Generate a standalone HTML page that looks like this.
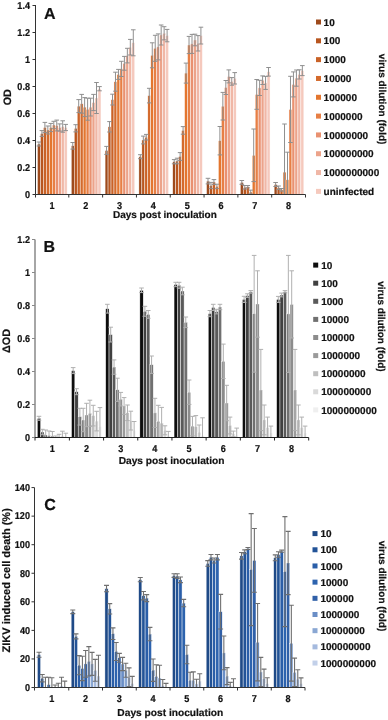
<!DOCTYPE html>
<html><head><meta charset="utf-8"><style>html,body{margin:0;padding:0;background:#fff;}
svg{display:block;will-change:transform;}
text{font-family:"Liberation Sans", sans-serif;font-weight:bold;fill:#111;stroke:#111;stroke-width:0.2px;text-rendering:geometricPrecision;}
.t{font-size:9.1px;}
.p{font-size:16px;}
.x{font-size:10px;}
.x2{font-size:10.2px;}
.y{font-size:10.8px;}
.z{font-size:11px;}
.yd{font-size:10.9px;}
</style></head>
<body><svg width="388" height="720" viewBox="0 0 388 720"><rect width="388" height="720" fill="#fff"/><rect x="37.45" y="144.00" width="2.97" height="50.50" fill="#9e4a1c" stroke="#fff" stroke-width="0.45"/><rect x="40.42" y="133.50" width="2.97" height="61.00" fill="#b8561f" stroke="#fff" stroke-width="0.45"/><rect x="43.39" y="127.50" width="2.97" height="67.00" fill="#c96227" stroke="#fff" stroke-width="0.45"/><rect x="46.36" y="130.00" width="2.97" height="64.50" fill="#d46a2c" stroke="#fff" stroke-width="0.45"/><rect x="49.33" y="127.50" width="2.97" height="67.00" fill="#e3762f" stroke="#fff" stroke-width="0.45"/><rect x="52.30" y="125.00" width="2.97" height="69.50" fill="#e77f45" stroke="#fff" stroke-width="0.45"/><rect x="55.27" y="125.50" width="2.97" height="69.00" fill="#e99170" stroke="#fff" stroke-width="0.45"/><rect x="58.24" y="127.50" width="2.97" height="67.00" fill="#eca38a" stroke="#fff" stroke-width="0.45"/><rect x="61.21" y="126.50" width="2.97" height="68.00" fill="#f0b7a6" stroke="#fff" stroke-width="0.45"/><rect x="64.18" y="127.50" width="2.97" height="67.00" fill="#f5c9bd" stroke="#fff" stroke-width="0.45"/><rect x="71.26" y="145.80" width="2.97" height="48.70" fill="#9e4a1c" stroke="#fff" stroke-width="0.45"/><rect x="74.23" y="128.30" width="2.97" height="66.20" fill="#b8561f" stroke="#fff" stroke-width="0.45"/><rect x="77.20" y="106.10" width="2.97" height="88.40" fill="#c96227" stroke="#fff" stroke-width="0.45"/><rect x="80.17" y="103.80" width="2.97" height="90.70" fill="#d46a2c" stroke="#fff" stroke-width="0.45"/><rect x="83.14" y="107.10" width="2.97" height="87.40" fill="#e3762f" stroke="#fff" stroke-width="0.45"/><rect x="86.11" y="109.20" width="2.97" height="85.30" fill="#e77f45" stroke="#fff" stroke-width="0.45"/><rect x="89.08" y="107.10" width="2.97" height="87.40" fill="#e99170" stroke="#fff" stroke-width="0.45"/><rect x="92.05" y="102.50" width="2.97" height="92.00" fill="#eca38a" stroke="#fff" stroke-width="0.45"/><rect x="95.02" y="98.00" width="2.97" height="96.50" fill="#f0b7a6" stroke="#fff" stroke-width="0.45"/><rect x="97.99" y="88.70" width="2.97" height="105.80" fill="#f5c9bd" stroke="#fff" stroke-width="0.45"/><rect x="105.08" y="150.40" width="2.97" height="44.10" fill="#9e4a1c" stroke="#fff" stroke-width="0.45"/><rect x="108.05" y="126.80" width="2.97" height="67.70" fill="#b8561f" stroke="#fff" stroke-width="0.45"/><rect x="111.02" y="99.60" width="2.97" height="94.90" fill="#c96227" stroke="#fff" stroke-width="0.45"/><rect x="113.98" y="81.70" width="2.97" height="112.80" fill="#d46a2c" stroke="#fff" stroke-width="0.45"/><rect x="116.95" y="74.40" width="2.97" height="120.10" fill="#e3762f" stroke="#fff" stroke-width="0.45"/><rect x="119.93" y="68.90" width="2.97" height="125.60" fill="#e77f45" stroke="#fff" stroke-width="0.45"/><rect x="122.90" y="63.30" width="2.97" height="131.20" fill="#e99170" stroke="#fff" stroke-width="0.45"/><rect x="125.87" y="55.60" width="2.97" height="138.90" fill="#eca38a" stroke="#fff" stroke-width="0.45"/><rect x="128.84" y="47.20" width="2.97" height="147.30" fill="#f0b7a6" stroke="#fff" stroke-width="0.45"/><rect x="131.81" y="42.80" width="2.97" height="151.70" fill="#f5c9bd" stroke="#fff" stroke-width="0.45"/><rect x="138.89" y="156.70" width="2.97" height="37.80" fill="#9e4a1c" stroke="#fff" stroke-width="0.45"/><rect x="141.86" y="140.00" width="2.97" height="54.50" fill="#b8561f" stroke="#fff" stroke-width="0.45"/><rect x="144.83" y="137.20" width="2.97" height="57.30" fill="#c96227" stroke="#fff" stroke-width="0.45"/><rect x="147.80" y="95.60" width="2.97" height="98.90" fill="#d46a2c" stroke="#fff" stroke-width="0.45"/><rect x="150.77" y="55.30" width="2.97" height="139.20" fill="#e3762f" stroke="#fff" stroke-width="0.45"/><rect x="153.74" y="48.30" width="2.97" height="146.20" fill="#e77f45" stroke="#fff" stroke-width="0.45"/><rect x="156.71" y="46.90" width="2.97" height="147.60" fill="#e99170" stroke="#fff" stroke-width="0.45"/><rect x="159.68" y="35.00" width="2.97" height="159.50" fill="#eca38a" stroke="#fff" stroke-width="0.45"/><rect x="162.65" y="33.30" width="2.97" height="161.20" fill="#f0b7a6" stroke="#fff" stroke-width="0.45"/><rect x="165.62" y="35.60" width="2.97" height="158.90" fill="#f5c9bd" stroke="#fff" stroke-width="0.45"/><rect x="172.70" y="161.70" width="2.97" height="32.80" fill="#9e4a1c" stroke="#fff" stroke-width="0.45"/><rect x="175.67" y="161.00" width="2.97" height="33.50" fill="#b8561f" stroke="#fff" stroke-width="0.45"/><rect x="178.64" y="156.50" width="2.97" height="38.00" fill="#c96227" stroke="#fff" stroke-width="0.45"/><rect x="181.61" y="130.40" width="2.97" height="64.10" fill="#d46a2c" stroke="#fff" stroke-width="0.45"/><rect x="184.58" y="73.10" width="2.97" height="121.40" fill="#e3762f" stroke="#fff" stroke-width="0.45"/><rect x="187.55" y="45.00" width="2.97" height="149.50" fill="#e77f45" stroke="#fff" stroke-width="0.45"/><rect x="190.52" y="43.90" width="2.97" height="150.60" fill="#e99170" stroke="#fff" stroke-width="0.45"/><rect x="193.49" y="40.00" width="2.97" height="154.50" fill="#eca38a" stroke="#fff" stroke-width="0.45"/><rect x="196.46" y="43.30" width="2.97" height="151.20" fill="#f0b7a6" stroke="#fff" stroke-width="0.45"/><rect x="199.43" y="35.60" width="2.97" height="158.90" fill="#f5c9bd" stroke="#fff" stroke-width="0.45"/><rect x="206.51" y="181.10" width="2.97" height="13.40" fill="#9e4a1c" stroke="#fff" stroke-width="0.45"/><rect x="209.48" y="185.50" width="2.97" height="9.00" fill="#b8561f" stroke="#fff" stroke-width="0.45"/><rect x="212.45" y="182.00" width="2.97" height="12.50" fill="#c96227" stroke="#fff" stroke-width="0.45"/><rect x="215.42" y="186.40" width="2.97" height="8.10" fill="#d46a2c" stroke="#fff" stroke-width="0.45"/><rect x="218.39" y="140.70" width="2.97" height="53.80" fill="#e3762f" stroke="#fff" stroke-width="0.45"/><rect x="221.36" y="106.20" width="2.97" height="88.30" fill="#e77f45" stroke="#fff" stroke-width="0.45"/><rect x="224.33" y="87.50" width="2.97" height="107.00" fill="#e99170" stroke="#fff" stroke-width="0.45"/><rect x="227.30" y="76.40" width="2.97" height="118.10" fill="#eca38a" stroke="#fff" stroke-width="0.45"/><rect x="230.27" y="81.40" width="2.97" height="113.10" fill="#f0b7a6" stroke="#fff" stroke-width="0.45"/><rect x="233.24" y="78.30" width="2.97" height="116.20" fill="#f5c9bd" stroke="#fff" stroke-width="0.45"/><rect x="240.32" y="182.40" width="2.97" height="12.10" fill="#9e4a1c" stroke="#fff" stroke-width="0.45"/><rect x="243.29" y="187.30" width="2.97" height="7.20" fill="#b8561f" stroke="#fff" stroke-width="0.45"/><rect x="246.26" y="186.70" width="2.97" height="7.80" fill="#c96227" stroke="#fff" stroke-width="0.45"/><rect x="249.23" y="192.00" width="2.97" height="2.50" fill="#d46a2c" stroke="#fff" stroke-width="0.45"/><rect x="252.20" y="155.30" width="2.97" height="39.20" fill="#e3762f" stroke="#fff" stroke-width="0.45"/><rect x="255.17" y="94.40" width="2.97" height="100.10" fill="#e77f45" stroke="#fff" stroke-width="0.45"/><rect x="258.14" y="87.90" width="2.97" height="106.60" fill="#e99170" stroke="#fff" stroke-width="0.45"/><rect x="261.12" y="80.20" width="2.97" height="114.30" fill="#eca38a" stroke="#fff" stroke-width="0.45"/><rect x="264.08" y="82.90" width="2.97" height="111.60" fill="#f0b7a6" stroke="#fff" stroke-width="0.45"/><rect x="267.06" y="71.80" width="2.97" height="122.70" fill="#f5c9bd" stroke="#fff" stroke-width="0.45"/><rect x="274.14" y="184.50" width="2.97" height="10.00" fill="#9e4a1c" stroke="#fff" stroke-width="0.45"/><rect x="277.11" y="187.80" width="2.97" height="6.70" fill="#b8561f" stroke="#fff" stroke-width="0.45"/><rect x="280.08" y="189.80" width="2.97" height="4.70" fill="#c96227" stroke="#fff" stroke-width="0.45"/><rect x="283.05" y="172.10" width="2.97" height="22.40" fill="#d46a2c" stroke="#fff" stroke-width="0.45"/><rect x="286.02" y="179.80" width="2.97" height="14.70" fill="#e3762f" stroke="#fff" stroke-width="0.45"/><rect x="288.99" y="109.40" width="2.97" height="85.10" fill="#e77f45" stroke="#fff" stroke-width="0.45"/><rect x="291.96" y="84.40" width="2.97" height="110.10" fill="#e99170" stroke="#fff" stroke-width="0.45"/><rect x="294.93" y="78.10" width="2.97" height="116.40" fill="#eca38a" stroke="#fff" stroke-width="0.45"/><rect x="297.90" y="74.40" width="2.97" height="120.10" fill="#f0b7a6" stroke="#fff" stroke-width="0.45"/><rect x="300.87" y="70.60" width="2.97" height="123.90" fill="#f5c9bd" stroke="#fff" stroke-width="0.45"/><path d="M38.94 142.00V146.00M36.64 142.00H41.23M36.64 146.00H41.23" stroke="#8f8f8f" stroke-width="1.0" fill="none"/><path d="M41.91 130.60V136.40M39.61 130.60H44.20M39.61 136.40H44.20" stroke="#8f8f8f" stroke-width="1.0" fill="none"/><path d="M44.88 122.40V132.60M42.58 122.40H47.17M42.58 132.60H47.17" stroke="#8f8f8f" stroke-width="1.0" fill="none"/><path d="M47.84 126.00V134.00M45.55 126.00H50.14M45.55 134.00H50.14" stroke="#8f8f8f" stroke-width="1.0" fill="none"/><path d="M50.82 123.40V131.60M48.52 123.40H53.12M48.52 131.60H53.12" stroke="#8f8f8f" stroke-width="1.0" fill="none"/><path d="M53.79 121.30V128.70M51.49 121.30H56.09M51.49 128.70H56.09" stroke="#8f8f8f" stroke-width="1.0" fill="none"/><path d="M56.76 120.10V130.90M54.46 120.10H59.05M54.46 130.90H59.05" stroke="#8f8f8f" stroke-width="1.0" fill="none"/><path d="M59.73 123.90V131.10M57.43 123.90H62.03M57.43 131.10H62.03" stroke="#8f8f8f" stroke-width="1.0" fill="none"/><path d="M62.70 120.80V132.20M60.40 120.80H65.00M60.40 132.20H65.00" stroke="#8f8f8f" stroke-width="1.0" fill="none"/><path d="M65.67 124.40V130.60M63.37 124.40H67.97M63.37 130.60H67.97" stroke="#8f8f8f" stroke-width="1.0" fill="none"/><path d="M72.75 142.50V149.10M70.45 142.50H75.05M70.45 149.10H75.05" stroke="#8f8f8f" stroke-width="1.0" fill="none"/><path d="M75.72 124.70V131.90M73.42 124.70H78.02M73.42 131.90H78.02" stroke="#8f8f8f" stroke-width="1.0" fill="none"/><path d="M78.69 99.60V112.60M76.39 99.60H80.99M76.39 112.60H80.99" stroke="#8f8f8f" stroke-width="1.0" fill="none"/><path d="M81.66 94.40V113.20M79.36 94.40H83.96M79.36 113.20H83.96" stroke="#8f8f8f" stroke-width="1.0" fill="none"/><path d="M84.63 97.60V116.60M82.33 97.60H86.93M82.33 116.60H86.93" stroke="#8f8f8f" stroke-width="1.0" fill="none"/><path d="M87.60 98.20V120.20M85.30 98.20H89.90M85.30 120.20H89.90" stroke="#8f8f8f" stroke-width="1.0" fill="none"/><path d="M90.57 98.20V116.00M88.27 98.20H92.87M88.27 116.00H92.87" stroke="#8f8f8f" stroke-width="1.0" fill="none"/><path d="M93.54 94.40V110.60M91.24 94.40H95.84M91.24 110.60H95.84" stroke="#8f8f8f" stroke-width="1.0" fill="none"/><path d="M96.51 82.50V113.50M94.21 82.50H98.81M94.21 113.50H98.81" stroke="#8f8f8f" stroke-width="1.0" fill="none"/><path d="M99.48 86.60V90.80M97.18 86.60H101.78M97.18 90.80H101.78" stroke="#8f8f8f" stroke-width="1.0" fill="none"/><path d="M106.56 146.40V154.40M104.26 146.40H108.86M104.26 154.40H108.86" stroke="#8f8f8f" stroke-width="1.0" fill="none"/><path d="M109.53 121.60V132.00M107.23 121.60H111.83M107.23 132.00H111.83" stroke="#8f8f8f" stroke-width="1.0" fill="none"/><path d="M112.50 94.20V105.00M110.20 94.20H114.80M110.20 105.00H114.80" stroke="#8f8f8f" stroke-width="1.0" fill="none"/><path d="M115.47 72.20V91.20M113.17 72.20H117.77M113.17 91.20H117.77" stroke="#8f8f8f" stroke-width="1.0" fill="none"/><path d="M118.44 69.40V79.40M116.14 69.40H120.74M116.14 79.40H120.74" stroke="#8f8f8f" stroke-width="1.0" fill="none"/><path d="M121.41 61.30V76.50M119.11 61.30H123.71M119.11 76.50H123.71" stroke="#8f8f8f" stroke-width="1.0" fill="none"/><path d="M124.38 56.40V70.20M122.08 56.40H126.68M122.08 70.20H126.68" stroke="#8f8f8f" stroke-width="1.0" fill="none"/><path d="M127.35 48.30V62.90M125.05 48.30H129.65M125.05 62.90H129.65" stroke="#8f8f8f" stroke-width="1.0" fill="none"/><path d="M130.32 39.40V55.00M128.02 39.40H132.62M128.02 55.00H132.62" stroke="#8f8f8f" stroke-width="1.0" fill="none"/><path d="M133.29 29.80V55.80M130.99 29.80H135.59M130.99 55.80H135.59" stroke="#8f8f8f" stroke-width="1.0" fill="none"/><path d="M140.37 154.70V158.70M138.07 154.70H142.67M138.07 158.70H142.67" stroke="#8f8f8f" stroke-width="1.0" fill="none"/><path d="M143.34 136.10V143.90M141.04 136.10H145.64M141.04 143.90H145.64" stroke="#8f8f8f" stroke-width="1.0" fill="none"/><path d="M146.31 134.40V140.00M144.01 134.40H148.61M144.01 140.00H148.61" stroke="#8f8f8f" stroke-width="1.0" fill="none"/><path d="M149.28 88.30V102.90M146.98 88.30H151.58M146.98 102.90H151.58" stroke="#8f8f8f" stroke-width="1.0" fill="none"/><path d="M152.25 42.80V67.80M149.95 42.80H154.55M149.95 67.80H154.55" stroke="#8f8f8f" stroke-width="1.0" fill="none"/><path d="M155.22 35.30V61.30M152.92 35.30H157.52M152.92 61.30H157.52" stroke="#8f8f8f" stroke-width="1.0" fill="none"/><path d="M158.19 33.90V59.90M155.89 33.90H160.49M155.89 59.90H160.49" stroke="#8f8f8f" stroke-width="1.0" fill="none"/><path d="M161.16 25.00V45.00M158.86 25.00H163.46M158.86 45.00H163.46" stroke="#8f8f8f" stroke-width="1.0" fill="none"/><path d="M164.13 26.70V39.90M161.83 26.70H166.43M161.83 39.90H166.43" stroke="#8f8f8f" stroke-width="1.0" fill="none"/><path d="M167.10 29.40V41.80M164.80 29.40H169.40M164.80 41.80H169.40" stroke="#8f8f8f" stroke-width="1.0" fill="none"/><path d="M174.19 159.60V163.80M171.88 159.60H176.49M171.88 163.80H176.49" stroke="#8f8f8f" stroke-width="1.0" fill="none"/><path d="M177.16 158.20V163.80M174.85 158.20H179.46M174.85 163.80H179.46" stroke="#8f8f8f" stroke-width="1.0" fill="none"/><path d="M180.12 152.60V160.40M177.82 152.60H182.43M177.82 160.40H182.43" stroke="#8f8f8f" stroke-width="1.0" fill="none"/><path d="M183.09 126.60V134.20M180.79 126.60H185.40M180.79 134.20H185.40" stroke="#8f8f8f" stroke-width="1.0" fill="none"/><path d="M186.06 63.10V83.10M183.76 63.10H188.37M183.76 83.10H188.37" stroke="#8f8f8f" stroke-width="1.0" fill="none"/><path d="M189.03 36.40V53.60M186.73 36.40H191.34M186.73 53.60H191.34" stroke="#8f8f8f" stroke-width="1.0" fill="none"/><path d="M192.00 34.40V53.40M189.70 34.40H194.31M189.70 53.40H194.31" stroke="#8f8f8f" stroke-width="1.0" fill="none"/><path d="M194.97 34.20V45.80M192.67 34.20H197.28M192.67 45.80H197.28" stroke="#8f8f8f" stroke-width="1.0" fill="none"/><path d="M197.94 35.60V51.00M195.64 35.60H200.25M195.64 51.00H200.25" stroke="#8f8f8f" stroke-width="1.0" fill="none"/><path d="M200.91 27.20V44.00M198.61 27.20H203.22M198.61 44.00H203.22" stroke="#8f8f8f" stroke-width="1.0" fill="none"/><path d="M208.00 178.30V183.90M205.70 178.30H210.30M205.70 183.90H210.30" stroke="#8f8f8f" stroke-width="1.0" fill="none"/><path d="M210.97 182.40V188.60M208.67 182.40H213.27M208.67 188.60H213.27" stroke="#8f8f8f" stroke-width="1.0" fill="none"/><path d="M213.94 179.60V184.40M211.64 179.60H216.24M211.64 184.40H216.24" stroke="#8f8f8f" stroke-width="1.0" fill="none"/><path d="M216.91 184.20V188.60M214.61 184.20H219.21M214.61 188.60H219.21" stroke="#8f8f8f" stroke-width="1.0" fill="none"/><path d="M219.88 126.50V154.90M217.58 126.50H222.18M217.58 154.90H222.18" stroke="#8f8f8f" stroke-width="1.0" fill="none"/><path d="M222.85 92.40V120.00M220.55 92.40H225.15M220.55 120.00H225.15" stroke="#8f8f8f" stroke-width="1.0" fill="none"/><path d="M225.82 80.50V94.50M223.52 80.50H228.12M223.52 94.50H228.12" stroke="#8f8f8f" stroke-width="1.0" fill="none"/><path d="M228.79 69.90V82.90M226.49 69.90H231.09M226.49 82.90H231.09" stroke="#8f8f8f" stroke-width="1.0" fill="none"/><path d="M231.76 77.60V85.20M229.46 77.60H234.06M229.46 85.20H234.06" stroke="#8f8f8f" stroke-width="1.0" fill="none"/><path d="M234.73 72.60V84.00M232.43 72.60H237.03M232.43 84.00H237.03" stroke="#8f8f8f" stroke-width="1.0" fill="none"/><path d="M241.81 180.50V184.30M239.51 180.50H244.11M239.51 184.30H244.11" stroke="#8f8f8f" stroke-width="1.0" fill="none"/><path d="M244.78 185.50V189.10M242.48 185.50H247.08M242.48 189.10H247.08" stroke="#8f8f8f" stroke-width="1.0" fill="none"/><path d="M247.75 185.50V187.90M245.45 185.50H250.05M245.45 187.90H250.05" stroke="#8f8f8f" stroke-width="1.0" fill="none"/><path d="M250.72 190.10V193.90M248.42 190.10H253.02M248.42 193.90H253.02" stroke="#8f8f8f" stroke-width="1.0" fill="none"/><path d="M253.69 129.00V181.60M251.39 129.00H255.99M251.39 181.60H255.99" stroke="#8f8f8f" stroke-width="1.0" fill="none"/><path d="M256.66 79.50V109.30M254.36 79.50H258.96M254.36 109.30H258.96" stroke="#8f8f8f" stroke-width="1.0" fill="none"/><path d="M259.63 80.30V95.50M257.33 80.30H261.93M257.33 95.50H261.93" stroke="#8f8f8f" stroke-width="1.0" fill="none"/><path d="M262.60 75.90V84.50M260.30 75.90H264.90M260.30 84.50H264.90" stroke="#8f8f8f" stroke-width="1.0" fill="none"/><path d="M265.57 76.40V89.40M263.27 76.40H267.87M263.27 89.40H267.87" stroke="#8f8f8f" stroke-width="1.0" fill="none"/><path d="M268.54 67.50V76.10M266.24 67.50H270.84M266.24 76.10H270.84" stroke="#8f8f8f" stroke-width="1.0" fill="none"/><path d="M275.62 182.50V186.50M273.32 182.50H277.92M273.32 186.50H277.92" stroke="#8f8f8f" stroke-width="1.0" fill="none"/><path d="M278.59 186.00V189.60M276.29 186.00H280.89M276.29 189.60H280.89" stroke="#8f8f8f" stroke-width="1.0" fill="none"/><path d="M281.56 188.50V191.10M279.26 188.50H283.86M279.26 191.10H283.86" stroke="#8f8f8f" stroke-width="1.0" fill="none"/><path d="M284.53 124.00V194.50M282.23 124.00H286.83" stroke="#8f8f8f" stroke-width="1.0" fill="none"/><path d="M287.50 152.20V194.50M285.20 152.20H289.80" stroke="#8f8f8f" stroke-width="1.0" fill="none"/><path d="M290.47 76.30V142.50M288.17 76.30H292.77M288.17 142.50H292.77" stroke="#8f8f8f" stroke-width="1.0" fill="none"/><path d="M293.44 71.90V96.90M291.14 71.90H295.74M291.14 96.90H295.74" stroke="#8f8f8f" stroke-width="1.0" fill="none"/><path d="M296.41 70.00V86.20M294.11 70.00H298.71M294.11 86.20H298.71" stroke="#8f8f8f" stroke-width="1.0" fill="none"/><path d="M299.38 69.80V79.00M297.08 69.80H301.68M297.08 79.00H301.68" stroke="#8f8f8f" stroke-width="1.0" fill="none"/><path d="M302.35 65.60V75.60M300.05 65.60H304.65M300.05 75.60H304.65" stroke="#8f8f8f" stroke-width="1.0" fill="none"/><path d="M35.50 5.00V194.50" stroke="#333" stroke-width="1.0" fill="none"/><path d="M35.50 194.50H305.50" stroke="#333" stroke-width="1" fill="none"/><path d="M32.50 194.50H35.50" stroke="#333" stroke-width="1"/><text transform="translate(30.00 197.80) scale(1 1.1)" text-anchor="end" class="t">0</text><path d="M32.50 167.50H35.50" stroke="#333" stroke-width="1"/><text transform="translate(30.00 170.80) scale(1 1.1)" text-anchor="end" class="t">0.2</text><path d="M32.50 140.50H35.50" stroke="#333" stroke-width="1"/><text transform="translate(30.00 143.80) scale(1 1.1)" text-anchor="end" class="t">0.4</text><path d="M32.50 113.50H35.50" stroke="#333" stroke-width="1"/><text transform="translate(30.00 116.80) scale(1 1.1)" text-anchor="end" class="t">0.6</text><path d="M32.50 86.50H35.50" stroke="#333" stroke-width="1"/><text transform="translate(30.00 89.80) scale(1 1.1)" text-anchor="end" class="t">0.8</text><path d="M32.50 59.50H35.50" stroke="#333" stroke-width="1"/><text transform="translate(30.00 62.80) scale(1 1.1)" text-anchor="end" class="t">1</text><path d="M32.50 32.50H35.50" stroke="#333" stroke-width="1"/><text transform="translate(30.00 35.80) scale(1 1.1)" text-anchor="end" class="t">1.2</text><path d="M32.50 5.50H35.50" stroke="#333" stroke-width="1"/><text transform="translate(30.00 8.80) scale(1 1.1)" text-anchor="end" class="t">1.4</text><path d="M35.50 194.50V197.50" stroke="#333" stroke-width="1"/><path d="M68.81 194.50V197.50" stroke="#333" stroke-width="1"/><path d="M102.62 194.50V197.50" stroke="#333" stroke-width="1"/><path d="M136.44 194.50V197.50" stroke="#333" stroke-width="1"/><path d="M170.25 194.50V197.50" stroke="#333" stroke-width="1"/><path d="M204.06 194.50V197.50" stroke="#333" stroke-width="1"/><path d="M237.88 194.50V197.50" stroke="#333" stroke-width="1"/><path d="M271.69 194.50V197.50" stroke="#333" stroke-width="1"/><path d="M305.50 194.50V197.50" stroke="#333" stroke-width="1"/><text transform="translate(51.91 209.10) scale(1 1.1)" text-anchor="middle" class="t">1</text><text transform="translate(85.72 209.10) scale(1 1.1)" text-anchor="middle" class="t">2</text><text transform="translate(119.53 209.10) scale(1 1.1)" text-anchor="middle" class="t">3</text><text transform="translate(153.34 209.10) scale(1 1.1)" text-anchor="middle" class="t">4</text><text transform="translate(187.16 209.10) scale(1 1.1)" text-anchor="middle" class="t">5</text><text transform="translate(220.97 209.10) scale(1 1.1)" text-anchor="middle" class="t">6</text><text transform="translate(254.78 209.10) scale(1 1.1)" text-anchor="middle" class="t">7</text><text transform="translate(288.59 209.10) scale(1 1.1)" text-anchor="middle" class="t">8</text><rect x="37.30" y="418.30" width="3.35" height="19.20" fill="#0d0d0d" stroke="#fff" stroke-width="0.45"/><rect x="40.65" y="432.00" width="3.35" height="5.50" fill="#404040" stroke="#fff" stroke-width="0.45"/><rect x="44.00" y="435.00" width="3.35" height="2.50" fill="#5a5a5a" stroke="#fff" stroke-width="0.45"/><rect x="47.35" y="435.50" width="3.35" height="2.00" fill="#707070" stroke="#fff" stroke-width="0.45"/><rect x="50.70" y="436.00" width="3.35" height="1.50" fill="#8c8c8c" stroke="#fff" stroke-width="0.45"/><rect x="54.05" y="437.00" width="3.35" height="0.50" fill="#9a9a9a" stroke="#fff" stroke-width="0.45"/><rect x="57.40" y="436.50" width="3.35" height="1.00" fill="#bfbfbf" stroke="#fff" stroke-width="0.45"/><rect x="60.75" y="436.00" width="3.35" height="1.50" fill="#d9d9d9" stroke="#fff" stroke-width="0.45"/><rect x="64.10" y="436.50" width="3.35" height="1.00" fill="#efefef" stroke="#fff" stroke-width="0.45"/><rect x="71.49" y="370.60" width="3.35" height="66.90" fill="#0d0d0d" stroke="#fff" stroke-width="0.45"/><rect x="74.84" y="391.70" width="3.35" height="45.80" fill="#404040" stroke="#fff" stroke-width="0.45"/><rect x="78.19" y="416.70" width="3.35" height="20.80" fill="#5a5a5a" stroke="#fff" stroke-width="0.45"/><rect x="81.54" y="420.00" width="3.35" height="17.50" fill="#707070" stroke="#fff" stroke-width="0.45"/><rect x="84.89" y="415.00" width="3.35" height="22.50" fill="#8c8c8c" stroke="#fff" stroke-width="0.45"/><rect x="88.24" y="413.30" width="3.35" height="24.20" fill="#9a9a9a" stroke="#fff" stroke-width="0.45"/><rect x="91.59" y="415.60" width="3.35" height="21.90" fill="#bfbfbf" stroke="#fff" stroke-width="0.45"/><rect x="94.94" y="421.10" width="3.35" height="16.40" fill="#d9d9d9" stroke="#fff" stroke-width="0.45"/><rect x="98.29" y="426.70" width="3.35" height="10.80" fill="#efefef" stroke="#fff" stroke-width="0.45"/><rect x="105.67" y="308.70" width="3.35" height="128.80" fill="#0d0d0d" stroke="#fff" stroke-width="0.45"/><rect x="109.02" y="334.60" width="3.35" height="102.90" fill="#404040" stroke="#fff" stroke-width="0.45"/><rect x="112.38" y="367.10" width="3.35" height="70.40" fill="#5a5a5a" stroke="#fff" stroke-width="0.45"/><rect x="115.72" y="389.80" width="3.35" height="47.70" fill="#707070" stroke="#fff" stroke-width="0.45"/><rect x="119.08" y="399.20" width="3.35" height="38.30" fill="#8c8c8c" stroke="#fff" stroke-width="0.45"/><rect x="122.42" y="406.00" width="3.35" height="31.50" fill="#9a9a9a" stroke="#fff" stroke-width="0.45"/><rect x="125.78" y="412.80" width="3.35" height="24.70" fill="#bfbfbf" stroke="#fff" stroke-width="0.45"/><rect x="129.12" y="420.60" width="3.35" height="16.90" fill="#d9d9d9" stroke="#fff" stroke-width="0.45"/><rect x="132.47" y="430.30" width="3.35" height="7.20" fill="#efefef" stroke="#fff" stroke-width="0.45"/><rect x="139.86" y="290.30" width="3.35" height="147.20" fill="#0d0d0d" stroke="#fff" stroke-width="0.45"/><rect x="143.21" y="311.30" width="3.35" height="126.20" fill="#404040" stroke="#fff" stroke-width="0.45"/><rect x="146.56" y="314.40" width="3.35" height="123.10" fill="#5a5a5a" stroke="#fff" stroke-width="0.45"/><rect x="149.91" y="364.70" width="3.35" height="72.80" fill="#707070" stroke="#fff" stroke-width="0.45"/><rect x="153.26" y="412.90" width="3.35" height="24.60" fill="#8c8c8c" stroke="#fff" stroke-width="0.45"/><rect x="156.61" y="421.30" width="3.35" height="16.20" fill="#9a9a9a" stroke="#fff" stroke-width="0.45"/><rect x="159.96" y="423.10" width="3.35" height="14.40" fill="#bfbfbf" stroke="#fff" stroke-width="0.45"/><rect x="163.31" y="430.30" width="3.35" height="7.20" fill="#d9d9d9" stroke="#fff" stroke-width="0.45"/><rect x="166.66" y="435.80" width="3.35" height="1.70" fill="#efefef" stroke="#fff" stroke-width="0.45"/><rect x="174.05" y="284.50" width="3.35" height="153.00" fill="#0d0d0d" stroke="#fff" stroke-width="0.45"/><rect x="177.40" y="285.30" width="3.35" height="152.20" fill="#404040" stroke="#fff" stroke-width="0.45"/><rect x="180.75" y="291.00" width="3.35" height="146.50" fill="#5a5a5a" stroke="#fff" stroke-width="0.45"/><rect x="184.10" y="322.30" width="3.35" height="115.20" fill="#707070" stroke="#fff" stroke-width="0.45"/><rect x="187.45" y="392.20" width="3.35" height="45.30" fill="#8c8c8c" stroke="#fff" stroke-width="0.45"/><rect x="190.80" y="426.10" width="3.35" height="11.40" fill="#9a9a9a" stroke="#fff" stroke-width="0.45"/><rect x="194.15" y="426.70" width="3.35" height="10.80" fill="#bfbfbf" stroke="#fff" stroke-width="0.45"/><rect x="197.50" y="432.20" width="3.35" height="5.30" fill="#d9d9d9" stroke="#fff" stroke-width="0.45"/><rect x="200.85" y="435.60" width="3.35" height="1.90" fill="#efefef" stroke="#fff" stroke-width="0.45"/><rect x="208.24" y="313.60" width="3.35" height="123.90" fill="#0d0d0d" stroke="#fff" stroke-width="0.45"/><rect x="211.59" y="307.40" width="3.35" height="130.10" fill="#404040" stroke="#fff" stroke-width="0.45"/><rect x="214.94" y="311.60" width="3.35" height="125.90" fill="#5a5a5a" stroke="#fff" stroke-width="0.45"/><rect x="218.29" y="307.00" width="3.35" height="130.50" fill="#707070" stroke="#fff" stroke-width="0.45"/><rect x="221.64" y="361.30" width="3.35" height="76.20" fill="#8c8c8c" stroke="#fff" stroke-width="0.45"/><rect x="224.99" y="403.00" width="3.35" height="34.50" fill="#9a9a9a" stroke="#fff" stroke-width="0.45"/><rect x="228.34" y="425.50" width="3.35" height="12.00" fill="#bfbfbf" stroke="#fff" stroke-width="0.45"/><rect x="231.69" y="433.90" width="3.35" height="3.60" fill="#d9d9d9" stroke="#fff" stroke-width="0.45"/><rect x="235.04" y="435.40" width="3.35" height="2.10" fill="#efefef" stroke="#fff" stroke-width="0.45"/><rect x="242.42" y="299.40" width="3.35" height="138.10" fill="#0d0d0d" stroke="#fff" stroke-width="0.45"/><rect x="245.77" y="295.60" width="3.35" height="141.90" fill="#404040" stroke="#fff" stroke-width="0.45"/><rect x="249.12" y="291.90" width="3.35" height="145.60" fill="#5a5a5a" stroke="#fff" stroke-width="0.45"/><rect x="252.47" y="313.80" width="3.35" height="123.70" fill="#707070" stroke="#fff" stroke-width="0.45"/><rect x="255.82" y="304.00" width="3.35" height="133.50" fill="#8c8c8c" stroke="#fff" stroke-width="0.45"/><rect x="259.17" y="390.00" width="3.35" height="47.50" fill="#9a9a9a" stroke="#fff" stroke-width="0.45"/><rect x="262.52" y="419.90" width="3.35" height="17.60" fill="#bfbfbf" stroke="#fff" stroke-width="0.45"/><rect x="265.88" y="427.50" width="3.35" height="10.00" fill="#d9d9d9" stroke="#fff" stroke-width="0.45"/><rect x="269.22" y="433.00" width="3.35" height="4.50" fill="#efefef" stroke="#fff" stroke-width="0.45"/><rect x="276.61" y="299.40" width="3.35" height="138.10" fill="#0d0d0d" stroke="#fff" stroke-width="0.45"/><rect x="279.96" y="295.00" width="3.35" height="142.50" fill="#404040" stroke="#fff" stroke-width="0.45"/><rect x="283.31" y="291.70" width="3.35" height="145.80" fill="#5a5a5a" stroke="#fff" stroke-width="0.45"/><rect x="286.66" y="313.90" width="3.35" height="123.60" fill="#707070" stroke="#fff" stroke-width="0.45"/><rect x="290.01" y="304.40" width="3.35" height="133.10" fill="#8c8c8c" stroke="#fff" stroke-width="0.45"/><rect x="293.36" y="390.00" width="3.35" height="47.50" fill="#9a9a9a" stroke="#fff" stroke-width="0.45"/><rect x="296.71" y="419.90" width="3.35" height="17.60" fill="#bfbfbf" stroke="#fff" stroke-width="0.45"/><rect x="300.06" y="427.50" width="3.35" height="10.00" fill="#d9d9d9" stroke="#fff" stroke-width="0.45"/><rect x="303.41" y="433.00" width="3.35" height="4.50" fill="#efefef" stroke="#fff" stroke-width="0.45"/><path d="M38.98 416.30V420.30M36.68 416.30H41.27M36.68 420.30H41.27" stroke="#b0b0b0" stroke-width="1.0" fill="none"/><path d="M42.33 429.30V434.70M40.03 429.30H44.62M40.03 434.70H44.62" stroke="#b0b0b0" stroke-width="1.0" fill="none"/><path d="M45.68 430.00V437.50M43.38 430.00H47.98" stroke="#b0b0b0" stroke-width="1.0" fill="none"/><path d="M49.03 431.00V437.50M46.73 431.00H51.33" stroke="#b0b0b0" stroke-width="1.0" fill="none"/><path d="M52.38 431.50V437.50M50.08 431.50H54.67" stroke="#b0b0b0" stroke-width="1.0" fill="none"/><path d="M55.73 436.00V437.50M53.43 436.00H58.02" stroke="#b0b0b0" stroke-width="1.0" fill="none"/><path d="M59.08 434.30V437.50M56.78 434.30H61.38" stroke="#b0b0b0" stroke-width="1.0" fill="none"/><path d="M62.42 431.20V437.50M60.12 431.20H64.72" stroke="#b0b0b0" stroke-width="1.0" fill="none"/><path d="M65.78 433.20V437.50M63.48 433.20H68.08" stroke="#b0b0b0" stroke-width="1.0" fill="none"/><path d="M73.16 367.60V373.60M70.86 367.60H75.46M70.86 373.60H75.46" stroke="#b0b0b0" stroke-width="1.0" fill="none"/><path d="M76.51 388.70V394.70M74.21 388.70H78.81M74.21 394.70H78.81" stroke="#b0b0b0" stroke-width="1.0" fill="none"/><path d="M79.86 408.30V425.10M77.56 408.30H82.16M77.56 425.10H82.16" stroke="#b0b0b0" stroke-width="1.0" fill="none"/><path d="M83.21 408.30V431.70M80.91 408.30H85.51M80.91 431.70H85.51" stroke="#b0b0b0" stroke-width="1.0" fill="none"/><path d="M86.56 403.30V426.70M84.26 403.30H88.86M84.26 426.70H88.86" stroke="#b0b0b0" stroke-width="1.0" fill="none"/><path d="M89.91 400.20V426.40M87.61 400.20H92.21M87.61 426.40H92.21" stroke="#b0b0b0" stroke-width="1.0" fill="none"/><path d="M93.26 405.30V425.90M90.96 405.30H95.56M90.96 425.90H95.56" stroke="#b0b0b0" stroke-width="1.0" fill="none"/><path d="M96.61 411.30V430.90M94.31 411.30H98.91M94.31 430.90H98.91" stroke="#b0b0b0" stroke-width="1.0" fill="none"/><path d="M99.96 407.60V437.50M97.66 407.60H102.26" stroke="#b0b0b0" stroke-width="1.0" fill="none"/><path d="M107.35 304.30V313.10M105.05 304.30H109.65M105.05 313.10H109.65" stroke="#b0b0b0" stroke-width="1.0" fill="none"/><path d="M110.70 327.20V342.00M108.40 327.20H113.00M108.40 342.00H113.00" stroke="#b0b0b0" stroke-width="1.0" fill="none"/><path d="M114.05 359.90V374.30M111.75 359.90H116.35M111.75 374.30H116.35" stroke="#b0b0b0" stroke-width="1.0" fill="none"/><path d="M117.40 378.20V401.40M115.10 378.20H119.70M115.10 401.40H119.70" stroke="#b0b0b0" stroke-width="1.0" fill="none"/><path d="M120.75 392.40V406.00M118.45 392.40H123.05M118.45 406.00H123.05" stroke="#b0b0b0" stroke-width="1.0" fill="none"/><path d="M124.10 397.60V414.40M121.80 397.60H126.40M121.80 414.40H126.40" stroke="#b0b0b0" stroke-width="1.0" fill="none"/><path d="M127.45 405.00V420.60M125.15 405.00H129.75M125.15 420.60H129.75" stroke="#b0b0b0" stroke-width="1.0" fill="none"/><path d="M130.80 411.20V430.00M128.50 411.20H133.10M128.50 430.00H133.10" stroke="#b0b0b0" stroke-width="1.0" fill="none"/><path d="M134.15 421.50V437.50M131.85 421.50H136.45" stroke="#b0b0b0" stroke-width="1.0" fill="none"/><path d="M141.54 288.00V292.60M139.24 288.00H143.84M139.24 292.60H143.84" stroke="#b0b0b0" stroke-width="1.0" fill="none"/><path d="M144.89 306.30V316.30M142.59 306.30H147.19M142.59 316.30H147.19" stroke="#b0b0b0" stroke-width="1.0" fill="none"/><path d="M148.24 310.50V318.30M145.94 310.50H150.54M145.94 318.30H150.54" stroke="#b0b0b0" stroke-width="1.0" fill="none"/><path d="M151.59 356.00V373.40M149.29 356.00H153.89M149.29 373.40H153.89" stroke="#b0b0b0" stroke-width="1.0" fill="none"/><path d="M154.94 398.30V427.50M152.64 398.30H157.24M152.64 427.50H157.24" stroke="#b0b0b0" stroke-width="1.0" fill="none"/><path d="M158.29 405.30V437.30M155.99 405.30H160.59" stroke="#b0b0b0" stroke-width="1.0" fill="none"/><path d="M161.64 407.40V437.50M159.34 407.40H163.94" stroke="#b0b0b0" stroke-width="1.0" fill="none"/><path d="M164.99 425.80V434.80M162.69 425.80H167.29M162.69 434.80H167.29" stroke="#b0b0b0" stroke-width="1.0" fill="none"/><path d="M168.34 431.40V437.50M166.04 431.40H170.64" stroke="#b0b0b0" stroke-width="1.0" fill="none"/><path d="M175.72 282.30V286.70M173.42 282.30H178.03M173.42 286.70H178.03" stroke="#b0b0b0" stroke-width="1.0" fill="none"/><path d="M179.07 282.30V288.30M176.77 282.30H181.38M176.77 288.30H181.38" stroke="#b0b0b0" stroke-width="1.0" fill="none"/><path d="M182.42 287.20V294.80M180.12 287.20H184.72M180.12 294.80H184.72" stroke="#b0b0b0" stroke-width="1.0" fill="none"/><path d="M185.78 317.00V327.60M183.47 317.00H188.08M183.47 327.60H188.08" stroke="#b0b0b0" stroke-width="1.0" fill="none"/><path d="M189.12 380.00V404.40M186.82 380.00H191.43M186.82 404.40H191.43" stroke="#b0b0b0" stroke-width="1.0" fill="none"/><path d="M192.47 416.40V435.80M190.17 416.40H194.78M190.17 435.80H194.78" stroke="#b0b0b0" stroke-width="1.0" fill="none"/><path d="M195.82 415.60V437.50M193.52 415.60H198.12" stroke="#b0b0b0" stroke-width="1.0" fill="none"/><path d="M199.17 425.00V437.50M196.87 425.00H201.47" stroke="#b0b0b0" stroke-width="1.0" fill="none"/><path d="M202.53 417.80V437.50M200.22 417.80H204.83" stroke="#b0b0b0" stroke-width="1.0" fill="none"/><path d="M209.91 310.50V316.70M207.61 310.50H212.21M207.61 316.70H212.21" stroke="#b0b0b0" stroke-width="1.0" fill="none"/><path d="M213.26 304.30V310.50M210.96 304.30H215.56M210.96 310.50H215.56" stroke="#b0b0b0" stroke-width="1.0" fill="none"/><path d="M216.61 309.30V313.90M214.31 309.30H218.91M214.31 313.90H218.91" stroke="#b0b0b0" stroke-width="1.0" fill="none"/><path d="M219.96 304.30V309.70M217.66 304.30H222.26M217.66 309.70H222.26" stroke="#b0b0b0" stroke-width="1.0" fill="none"/><path d="M223.31 344.10V378.50M221.01 344.10H225.61M221.01 378.50H225.61" stroke="#b0b0b0" stroke-width="1.0" fill="none"/><path d="M226.66 385.30V420.70M224.36 385.30H228.96M224.36 420.70H228.96" stroke="#b0b0b0" stroke-width="1.0" fill="none"/><path d="M230.01 417.10V433.90M227.71 417.10H232.31M227.71 433.90H232.31" stroke="#b0b0b0" stroke-width="1.0" fill="none"/><path d="M233.36 431.10V436.70M231.06 431.10H235.66M231.06 436.70H235.66" stroke="#b0b0b0" stroke-width="1.0" fill="none"/><path d="M236.71 428.10V437.50M234.41 428.10H239.01" stroke="#b0b0b0" stroke-width="1.0" fill="none"/><path d="M244.10 296.30V302.50M241.80 296.30H246.40M241.80 302.50H246.40" stroke="#b0b0b0" stroke-width="1.0" fill="none"/><path d="M247.45 293.80V297.40M245.15 293.80H249.75M245.15 297.40H249.75" stroke="#b0b0b0" stroke-width="1.0" fill="none"/><path d="M250.80 290.60V293.20M248.50 290.60H253.10M248.50 293.20H253.10" stroke="#b0b0b0" stroke-width="1.0" fill="none"/><path d="M254.15 255.40V372.20M251.85 255.40H256.45M251.85 372.20H256.45" stroke="#b0b0b0" stroke-width="1.0" fill="none"/><path d="M257.50 270.80V337.20M255.20 270.80H259.80M255.20 337.20H259.80" stroke="#b0b0b0" stroke-width="1.0" fill="none"/><path d="M260.85 349.40V430.60M258.55 349.40H263.15M258.55 430.60H263.15" stroke="#b0b0b0" stroke-width="1.0" fill="none"/><path d="M264.20 405.00V434.80M261.90 405.00H266.50M261.90 434.80H266.50" stroke="#b0b0b0" stroke-width="1.0" fill="none"/><path d="M267.55 417.10V437.50M265.25 417.10H269.85" stroke="#b0b0b0" stroke-width="1.0" fill="none"/><path d="M270.90 426.10V437.50M268.60 426.10H273.20" stroke="#b0b0b0" stroke-width="1.0" fill="none"/><path d="M278.29 296.40V302.40M275.99 296.40H280.59M275.99 302.40H280.59" stroke="#b0b0b0" stroke-width="1.0" fill="none"/><path d="M281.64 293.10V296.90M279.34 293.10H283.94M279.34 296.90H283.94" stroke="#b0b0b0" stroke-width="1.0" fill="none"/><path d="M284.99 290.60V292.80M282.69 290.60H287.29M282.69 292.80H287.29" stroke="#b0b0b0" stroke-width="1.0" fill="none"/><path d="M288.34 255.40V372.40M286.04 255.40H290.64M286.04 372.40H290.64" stroke="#b0b0b0" stroke-width="1.0" fill="none"/><path d="M291.69 270.80V338.00M289.39 270.80H293.99M289.39 338.00H293.99" stroke="#b0b0b0" stroke-width="1.0" fill="none"/><path d="M295.04 349.40V430.60M292.74 349.40H297.34M292.74 430.60H297.34" stroke="#b0b0b0" stroke-width="1.0" fill="none"/><path d="M298.39 405.00V434.80M296.09 405.00H300.69M296.09 434.80H300.69" stroke="#b0b0b0" stroke-width="1.0" fill="none"/><path d="M301.74 417.10V437.50M299.44 417.10H304.04" stroke="#b0b0b0" stroke-width="1.0" fill="none"/><path d="M305.09 426.10V437.50M302.79 426.10H307.39" stroke="#b0b0b0" stroke-width="1.0" fill="none"/><path d="M35.00 239.40V437.50" stroke="#888" stroke-width="1.5" fill="none"/><path d="M35.00 437.50H308.70" stroke="#222" stroke-width="1" fill="none"/><path d="M32.00 437.50H35.00" stroke="#888" stroke-width="1"/><text transform="translate(30.00 440.80) scale(1 1.1)" text-anchor="end" class="t">0</text><path d="M32.00 404.50H35.00" stroke="#888" stroke-width="1"/><text transform="translate(30.00 407.80) scale(1 1.1)" text-anchor="end" class="t">0.2</text><path d="M32.00 371.50H35.00" stroke="#888" stroke-width="1"/><text transform="translate(30.00 374.80) scale(1 1.1)" text-anchor="end" class="t">0.4</text><path d="M32.00 338.50H35.00" stroke="#888" stroke-width="1"/><text transform="translate(30.00 341.80) scale(1 1.1)" text-anchor="end" class="t">0.6</text><path d="M32.00 305.50H35.00" stroke="#888" stroke-width="1"/><text transform="translate(30.00 308.80) scale(1 1.1)" text-anchor="end" class="t">0.8</text><path d="M32.00 272.50H35.00" stroke="#888" stroke-width="1"/><text transform="translate(30.00 275.80) scale(1 1.1)" text-anchor="end" class="t">1</text><path d="M32.00 239.50H35.00" stroke="#888" stroke-width="1"/><text transform="translate(30.00 242.80) scale(1 1.1)" text-anchor="end" class="t">1.2</text><path d="M35.00 437.50V440.50" stroke="#222" stroke-width="1"/><path d="M69.39 437.50V440.50" stroke="#222" stroke-width="1"/><path d="M103.58 437.50V440.50" stroke="#222" stroke-width="1"/><path d="M137.76 437.50V440.50" stroke="#222" stroke-width="1"/><path d="M171.95 437.50V440.50" stroke="#222" stroke-width="1"/><path d="M206.14 437.50V440.50" stroke="#222" stroke-width="1"/><path d="M240.32 437.50V440.50" stroke="#222" stroke-width="1"/><path d="M274.51 437.50V440.50" stroke="#222" stroke-width="1"/><path d="M308.70 437.50V440.50" stroke="#222" stroke-width="1"/><text transform="translate(52.29 451.60) scale(1 1.1)" text-anchor="middle" class="t">1</text><text transform="translate(86.48 451.60) scale(1 1.1)" text-anchor="middle" class="t">2</text><text transform="translate(120.67 451.60) scale(1 1.1)" text-anchor="middle" class="t">3</text><text transform="translate(154.86 451.60) scale(1 1.1)" text-anchor="middle" class="t">4</text><text transform="translate(189.04 451.60) scale(1 1.1)" text-anchor="middle" class="t">5</text><text transform="translate(223.23 451.60) scale(1 1.1)" text-anchor="middle" class="t">6</text><text transform="translate(257.42 451.60) scale(1 1.1)" text-anchor="middle" class="t">7</text><text transform="translate(291.61 451.60) scale(1 1.1)" text-anchor="middle" class="t">8</text><rect x="37.41" y="654.70" width="3.21" height="32.80" fill="#1f4a87" stroke="#fff" stroke-width="0.45"/><rect x="40.62" y="678.20" width="3.21" height="9.30" fill="#225397" stroke="#fff" stroke-width="0.45"/><rect x="43.84" y="687.00" width="3.21" height="0.50" fill="#2a5ea8" stroke="#fff" stroke-width="0.45"/><rect x="47.05" y="684.60" width="3.21" height="2.90" fill="#2d63ae" stroke="#fff" stroke-width="0.45"/><rect x="50.27" y="687.00" width="3.21" height="0.50" fill="#3060a8" stroke="#fff" stroke-width="0.45"/><rect x="56.69" y="687.00" width="3.21" height="0.50" fill="#8aa7d3" stroke="#fff" stroke-width="0.45"/><rect x="59.91" y="686.00" width="3.21" height="1.50" fill="#a5bade" stroke="#fff" stroke-width="0.45"/><rect x="63.12" y="686.50" width="3.21" height="1.00" fill="#c2d0e9" stroke="#fff" stroke-width="0.45"/><rect x="71.16" y="611.80" width="3.21" height="75.70" fill="#1f4a87" stroke="#fff" stroke-width="0.45"/><rect x="74.37" y="636.40" width="3.21" height="51.10" fill="#225397" stroke="#fff" stroke-width="0.45"/><rect x="77.59" y="665.20" width="3.21" height="22.30" fill="#2a5ea8" stroke="#fff" stroke-width="0.45"/><rect x="80.80" y="668.40" width="3.21" height="19.10" fill="#2d63ae" stroke="#fff" stroke-width="0.45"/><rect x="84.02" y="663.90" width="3.21" height="23.60" fill="#3060a8" stroke="#fff" stroke-width="0.45"/><rect x="87.23" y="661.30" width="3.21" height="26.20" fill="#6a8ec6" stroke="#fff" stroke-width="0.45"/><rect x="90.44" y="663.90" width="3.21" height="23.60" fill="#8aa7d3" stroke="#fff" stroke-width="0.45"/><rect x="93.66" y="670.30" width="3.21" height="17.20" fill="#a5bade" stroke="#fff" stroke-width="0.45"/><rect x="96.87" y="676.00" width="3.21" height="11.50" fill="#c2d0e9" stroke="#fff" stroke-width="0.45"/><rect x="104.91" y="588.60" width="3.21" height="98.90" fill="#1f4a87" stroke="#fff" stroke-width="0.45"/><rect x="108.12" y="608.80" width="3.21" height="78.70" fill="#225397" stroke="#fff" stroke-width="0.45"/><rect x="111.34" y="633.70" width="3.21" height="53.80" fill="#2a5ea8" stroke="#fff" stroke-width="0.45"/><rect x="114.55" y="651.50" width="3.21" height="36.00" fill="#2d63ae" stroke="#fff" stroke-width="0.45"/><rect x="117.77" y="657.80" width="3.21" height="29.70" fill="#3060a8" stroke="#fff" stroke-width="0.45"/><rect x="120.98" y="664.00" width="3.21" height="23.50" fill="#6a8ec6" stroke="#fff" stroke-width="0.45"/><rect x="124.19" y="670.20" width="3.21" height="17.30" fill="#8aa7d3" stroke="#fff" stroke-width="0.45"/><rect x="127.41" y="677.20" width="3.21" height="10.30" fill="#a5bade" stroke="#fff" stroke-width="0.45"/><rect x="130.62" y="683.40" width="3.21" height="4.10" fill="#c2d0e9" stroke="#fff" stroke-width="0.45"/><rect x="138.66" y="579.60" width="3.21" height="107.90" fill="#1f4a87" stroke="#fff" stroke-width="0.45"/><rect x="141.87" y="595.70" width="3.21" height="91.80" fill="#225397" stroke="#fff" stroke-width="0.45"/><rect x="145.09" y="598.10" width="3.21" height="89.40" fill="#2a5ea8" stroke="#fff" stroke-width="0.45"/><rect x="148.30" y="634.10" width="3.21" height="53.40" fill="#2d63ae" stroke="#fff" stroke-width="0.45"/><rect x="151.52" y="670.20" width="3.21" height="17.30" fill="#3060a8" stroke="#fff" stroke-width="0.45"/><rect x="154.73" y="676.40" width="3.21" height="11.10" fill="#6a8ec6" stroke="#fff" stroke-width="0.45"/><rect x="157.94" y="678.00" width="3.21" height="9.50" fill="#8aa7d3" stroke="#fff" stroke-width="0.45"/><rect x="161.16" y="685.80" width="3.21" height="1.70" fill="#a5bade" stroke="#fff" stroke-width="0.45"/><rect x="164.37" y="687.00" width="3.21" height="0.50" fill="#c2d0e9" stroke="#fff" stroke-width="0.45"/><rect x="172.41" y="575.60" width="3.21" height="111.90" fill="#1f4a87" stroke="#fff" stroke-width="0.45"/><rect x="175.62" y="576.10" width="3.21" height="111.40" fill="#225397" stroke="#fff" stroke-width="0.45"/><rect x="178.84" y="579.80" width="3.21" height="107.70" fill="#2a5ea8" stroke="#fff" stroke-width="0.45"/><rect x="182.05" y="603.10" width="3.21" height="84.40" fill="#2d63ae" stroke="#fff" stroke-width="0.45"/><rect x="185.27" y="654.50" width="3.21" height="33.00" fill="#3060a8" stroke="#fff" stroke-width="0.45"/><rect x="188.48" y="680.20" width="3.21" height="7.30" fill="#6a8ec6" stroke="#fff" stroke-width="0.45"/><rect x="191.69" y="680.20" width="3.21" height="7.30" fill="#8aa7d3" stroke="#fff" stroke-width="0.45"/><rect x="194.91" y="683.90" width="3.21" height="3.60" fill="#a5bade" stroke="#fff" stroke-width="0.45"/><rect x="198.12" y="681.10" width="3.21" height="6.40" fill="#c2d0e9" stroke="#fff" stroke-width="0.45"/><rect x="206.16" y="563.40" width="3.21" height="124.10" fill="#1f4a87" stroke="#fff" stroke-width="0.45"/><rect x="209.37" y="557.20" width="3.21" height="130.30" fill="#225397" stroke="#fff" stroke-width="0.45"/><rect x="212.59" y="560.50" width="3.21" height="127.00" fill="#2a5ea8" stroke="#fff" stroke-width="0.45"/><rect x="215.80" y="557.20" width="3.21" height="130.30" fill="#2d63ae" stroke="#fff" stroke-width="0.45"/><rect x="219.02" y="611.70" width="3.21" height="75.80" fill="#3060a8" stroke="#fff" stroke-width="0.45"/><rect x="222.23" y="652.90" width="3.21" height="34.60" fill="#6a8ec6" stroke="#fff" stroke-width="0.45"/><rect x="225.44" y="676.10" width="3.21" height="11.40" fill="#8aa7d3" stroke="#fff" stroke-width="0.45"/><rect x="228.66" y="685.60" width="3.21" height="1.90" fill="#a5bade" stroke="#fff" stroke-width="0.45"/><rect x="231.87" y="686.60" width="3.21" height="0.90" fill="#c2d0e9" stroke="#fff" stroke-width="0.45"/><rect x="239.91" y="555.80" width="3.21" height="131.70" fill="#1f4a87" stroke="#fff" stroke-width="0.45"/><rect x="243.12" y="551.80" width="3.21" height="135.70" fill="#225397" stroke="#fff" stroke-width="0.45"/><rect x="246.34" y="548.50" width="3.21" height="139.00" fill="#2a5ea8" stroke="#fff" stroke-width="0.45"/><rect x="249.55" y="569.60" width="3.21" height="117.90" fill="#2d63ae" stroke="#fff" stroke-width="0.45"/><rect x="252.77" y="560.40" width="3.21" height="127.10" fill="#3060a8" stroke="#fff" stroke-width="0.45"/><rect x="255.98" y="642.20" width="3.21" height="45.30" fill="#6a8ec6" stroke="#fff" stroke-width="0.45"/><rect x="259.19" y="672.00" width="3.21" height="15.50" fill="#8aa7d3" stroke="#fff" stroke-width="0.45"/><rect x="262.41" y="678.70" width="3.21" height="8.80" fill="#a5bade" stroke="#fff" stroke-width="0.45"/><rect x="265.62" y="683.60" width="3.21" height="3.90" fill="#c2d0e9" stroke="#fff" stroke-width="0.45"/><rect x="273.66" y="557.80" width="3.21" height="129.70" fill="#1f4a87" stroke="#fff" stroke-width="0.45"/><rect x="276.87" y="554.50" width="3.21" height="133.00" fill="#225397" stroke="#fff" stroke-width="0.45"/><rect x="280.09" y="551.20" width="3.21" height="136.30" fill="#2a5ea8" stroke="#fff" stroke-width="0.45"/><rect x="283.30" y="571.60" width="3.21" height="115.90" fill="#2d63ae" stroke="#fff" stroke-width="0.45"/><rect x="286.52" y="563.00" width="3.21" height="124.50" fill="#3060a8" stroke="#fff" stroke-width="0.45"/><rect x="289.73" y="643.20" width="3.21" height="44.30" fill="#6a8ec6" stroke="#fff" stroke-width="0.45"/><rect x="292.94" y="672.30" width="3.21" height="15.20" fill="#8aa7d3" stroke="#fff" stroke-width="0.45"/><rect x="296.16" y="679.10" width="3.21" height="8.40" fill="#a5bade" stroke="#fff" stroke-width="0.45"/><rect x="299.37" y="683.60" width="3.21" height="3.90" fill="#c2d0e9" stroke="#fff" stroke-width="0.45"/><path d="M39.02 652.20V657.20M36.52 652.20H41.52M36.52 657.20H41.52" stroke="#707070" stroke-width="1.1" fill="none"/><path d="M42.23 674.50V681.90M39.73 674.50H44.73M39.73 681.90H44.73" stroke="#707070" stroke-width="1.1" fill="none"/><path d="M45.44 677.20V687.50M42.94 677.20H47.94" stroke="#707070" stroke-width="1.1" fill="none"/><path d="M48.66 677.20V687.50M46.16 677.20H51.16" stroke="#707070" stroke-width="1.1" fill="none"/><path d="M51.87 677.70V687.50M49.37 677.70H54.37" stroke="#707070" stroke-width="1.1" fill="none"/><path d="M55.09 685.00V687.50M52.59 685.00H57.59" stroke="#707070" stroke-width="1.1" fill="none"/><path d="M58.30 683.30V687.50M55.80 683.30H60.80" stroke="#707070" stroke-width="1.1" fill="none"/><path d="M61.52 677.20V687.50M59.02 677.20H64.02" stroke="#707070" stroke-width="1.1" fill="none"/><path d="M64.73 681.10V687.50M62.23 681.10H67.23" stroke="#707070" stroke-width="1.1" fill="none"/><path d="M72.77 610.00V613.60M70.27 610.00H75.27M70.27 613.60H75.27" stroke="#707070" stroke-width="1.1" fill="none"/><path d="M75.98 633.90V638.90M73.48 633.90H78.48M73.48 638.90H78.48" stroke="#707070" stroke-width="1.1" fill="none"/><path d="M79.19 655.60V674.80M76.69 655.60H81.69M76.69 674.80H81.69" stroke="#707070" stroke-width="1.1" fill="none"/><path d="M82.41 656.20V680.60M79.91 656.20H84.91M79.91 680.60H84.91" stroke="#707070" stroke-width="1.1" fill="none"/><path d="M85.62 650.50V677.30M83.12 650.50H88.12M83.12 677.30H88.12" stroke="#707070" stroke-width="1.1" fill="none"/><path d="M88.84 646.60V676.00M86.34 646.60H91.34M86.34 676.00H91.34" stroke="#707070" stroke-width="1.1" fill="none"/><path d="M92.05 652.40V675.40M89.55 652.40H94.55M89.55 675.40H94.55" stroke="#707070" stroke-width="1.1" fill="none"/><path d="M95.27 659.40V681.20M92.77 659.40H97.77M92.77 681.20H97.77" stroke="#707070" stroke-width="1.1" fill="none"/><path d="M98.48 655.20V687.50M95.98 655.20H100.98" stroke="#707070" stroke-width="1.1" fill="none"/><path d="M106.52 585.40V591.80M104.02 585.40H109.02M104.02 591.80H109.02" stroke="#707070" stroke-width="1.1" fill="none"/><path d="M109.73 603.60V614.00M107.23 603.60H112.23M107.23 614.00H112.23" stroke="#707070" stroke-width="1.1" fill="none"/><path d="M112.94 627.90V639.50M110.44 627.90H115.44M110.44 639.50H115.44" stroke="#707070" stroke-width="1.1" fill="none"/><path d="M116.16 642.50V660.50M113.66 642.50H118.66M113.66 660.50H118.66" stroke="#707070" stroke-width="1.1" fill="none"/><path d="M119.37 653.40V662.20M116.87 653.40H121.87M116.87 662.20H121.87" stroke="#707070" stroke-width="1.1" fill="none"/><path d="M122.59 657.40V670.60M120.09 657.40H125.09M120.09 670.60H125.09" stroke="#707070" stroke-width="1.1" fill="none"/><path d="M125.80 663.20V677.20M123.30 663.20H128.30M123.30 677.20H128.30" stroke="#707070" stroke-width="1.1" fill="none"/><path d="M129.02 667.90V686.50M126.52 667.90H131.52M126.52 686.50H131.52" stroke="#707070" stroke-width="1.1" fill="none"/><path d="M132.23 676.40V687.50M129.73 676.40H134.73" stroke="#707070" stroke-width="1.1" fill="none"/><path d="M140.27 577.50V581.70M137.77 577.50H142.77M137.77 581.70H142.77" stroke="#707070" stroke-width="1.1" fill="none"/><path d="M143.48 591.50V599.90M140.98 591.50H145.98M140.98 599.90H145.98" stroke="#707070" stroke-width="1.1" fill="none"/><path d="M146.69 594.60V601.60M144.19 594.60H149.19M144.19 601.60H149.19" stroke="#707070" stroke-width="1.1" fill="none"/><path d="M149.91 627.40V640.80M147.41 627.40H152.41M147.41 640.80H152.41" stroke="#707070" stroke-width="1.1" fill="none"/><path d="M153.12 659.00V681.40M150.62 659.00H155.62M150.62 681.40H155.62" stroke="#707070" stroke-width="1.1" fill="none"/><path d="M156.34 664.80V687.50M153.84 664.80H158.84" stroke="#707070" stroke-width="1.1" fill="none"/><path d="M159.55 665.20V687.50M157.05 665.20H162.05" stroke="#707070" stroke-width="1.1" fill="none"/><path d="M162.76 679.50V687.50M160.26 679.50H165.26" stroke="#707070" stroke-width="1.1" fill="none"/><path d="M165.98 683.40V687.50M163.48 683.40H168.48" stroke="#707070" stroke-width="1.1" fill="none"/><path d="M174.02 573.80V577.40M171.52 573.80H176.52M171.52 577.40H176.52" stroke="#707070" stroke-width="1.1" fill="none"/><path d="M177.23 573.80V578.40M174.73 573.80H179.73M174.73 578.40H179.73" stroke="#707070" stroke-width="1.1" fill="none"/><path d="M180.44 577.00V582.60M177.94 577.00H182.94M177.94 582.60H182.94" stroke="#707070" stroke-width="1.1" fill="none"/><path d="M183.66 599.40V606.80M181.16 599.40H186.16M181.16 606.80H186.16" stroke="#707070" stroke-width="1.1" fill="none"/><path d="M186.87 645.30V663.70M184.37 645.30H189.37M184.37 663.70H189.37" stroke="#707070" stroke-width="1.1" fill="none"/><path d="M190.09 672.30V687.50M187.59 672.30H192.59" stroke="#707070" stroke-width="1.1" fill="none"/><path d="M193.30 671.90V687.50M190.80 671.90H195.80" stroke="#707070" stroke-width="1.1" fill="none"/><path d="M196.51 679.30V687.50M194.01 679.30H199.01" stroke="#707070" stroke-width="1.1" fill="none"/><path d="M199.73 673.80V687.50M197.23 673.80H202.23" stroke="#707070" stroke-width="1.1" fill="none"/><path d="M207.77 560.60V566.20M205.27 560.60H210.27M205.27 566.20H210.27" stroke="#707070" stroke-width="1.1" fill="none"/><path d="M210.98 554.50V559.90M208.48 554.50H213.48M208.48 559.90H213.48" stroke="#707070" stroke-width="1.1" fill="none"/><path d="M214.19 558.00V563.00M211.69 558.00H216.69M211.69 563.00H216.69" stroke="#707070" stroke-width="1.1" fill="none"/><path d="M217.41 554.50V559.90M214.91 554.50H219.91M214.91 559.90H219.91" stroke="#707070" stroke-width="1.1" fill="none"/><path d="M220.62 594.40V629.00M218.12 594.40H223.12M218.12 629.00H223.12" stroke="#707070" stroke-width="1.1" fill="none"/><path d="M223.84 636.00V669.80M221.34 636.00H226.34M221.34 669.80H226.34" stroke="#707070" stroke-width="1.1" fill="none"/><path d="M227.05 667.60V684.60M224.55 667.60H229.55M224.55 684.60H229.55" stroke="#707070" stroke-width="1.1" fill="none"/><path d="M230.26 682.40V687.50M227.76 682.40H232.76" stroke="#707070" stroke-width="1.1" fill="none"/><path d="M233.48 678.80V687.50M230.98 678.80H235.98" stroke="#707070" stroke-width="1.1" fill="none"/><path d="M241.52 552.50V559.10M239.02 552.50H244.02M239.02 559.10H244.02" stroke="#707070" stroke-width="1.1" fill="none"/><path d="M244.73 549.90V553.70M242.23 549.90H247.23M242.23 553.70H247.23" stroke="#707070" stroke-width="1.1" fill="none"/><path d="M247.94 547.50V549.50M245.44 547.50H250.44M245.44 549.50H250.44" stroke="#707070" stroke-width="1.1" fill="none"/><path d="M251.16 513.60V625.60M248.66 513.60H253.66M248.66 625.60H253.66" stroke="#707070" stroke-width="1.1" fill="none"/><path d="M254.37 528.50V592.30M251.87 528.50H256.87M251.87 592.30H256.87" stroke="#707070" stroke-width="1.1" fill="none"/><path d="M257.59 603.50V680.90M255.09 603.50H260.09M255.09 680.90H260.09" stroke="#707070" stroke-width="1.1" fill="none"/><path d="M260.80 657.40V686.60M258.30 657.40H263.30M258.30 686.60H263.30" stroke="#707070" stroke-width="1.1" fill="none"/><path d="M264.02 669.10V687.50M261.52 669.10H266.52" stroke="#707070" stroke-width="1.1" fill="none"/><path d="M267.23 677.70V687.50M264.73 677.70H269.73" stroke="#707070" stroke-width="1.1" fill="none"/><path d="M275.27 554.90V560.70M272.77 554.90H277.77M272.77 560.70H277.77" stroke="#707070" stroke-width="1.1" fill="none"/><path d="M278.48 551.80V557.20M275.98 551.80H280.98M275.98 557.20H280.98" stroke="#707070" stroke-width="1.1" fill="none"/><path d="M281.70 550.10V552.30M279.20 550.10H284.20M279.20 552.30H284.20" stroke="#707070" stroke-width="1.1" fill="none"/><path d="M284.91 516.60V626.60M282.41 516.60H287.41M282.41 626.60H287.41" stroke="#707070" stroke-width="1.1" fill="none"/><path d="M288.12 531.40V594.60M285.62 531.40H290.62M285.62 594.60H290.62" stroke="#707070" stroke-width="1.1" fill="none"/><path d="M291.34 605.30V681.10M288.84 605.30H293.84M288.84 681.10H293.84" stroke="#707070" stroke-width="1.1" fill="none"/><path d="M294.55 658.10V686.50M292.05 658.10H297.05M292.05 686.50H297.05" stroke="#707070" stroke-width="1.1" fill="none"/><path d="M297.77 669.70V687.50M295.27 669.70H300.27" stroke="#707070" stroke-width="1.1" fill="none"/><path d="M300.98 677.90V687.50M298.48 677.90H303.48" stroke="#707070" stroke-width="1.1" fill="none"/><path d="M34.50 487.60V687.50" stroke="#333" stroke-width="1.0" fill="none"/><path d="M34.50 687.50H305.00" stroke="#333" stroke-width="1" fill="none"/><path d="M31.50 687.50H34.50" stroke="#333" stroke-width="1"/><text transform="translate(30.00 690.80) scale(1 1.1)" text-anchor="end" class="t">0</text><path d="M31.50 658.94H34.50" stroke="#333" stroke-width="1"/><text transform="translate(30.00 662.24) scale(1 1.1)" text-anchor="end" class="t">20</text><path d="M31.50 630.38H34.50" stroke="#333" stroke-width="1"/><text transform="translate(30.00 633.68) scale(1 1.1)" text-anchor="end" class="t">40</text><path d="M31.50 601.82H34.50" stroke="#333" stroke-width="1"/><text transform="translate(30.00 605.12) scale(1 1.1)" text-anchor="end" class="t">60</text><path d="M31.50 573.26H34.50" stroke="#333" stroke-width="1"/><text transform="translate(30.00 576.56) scale(1 1.1)" text-anchor="end" class="t">80</text><path d="M31.50 544.70H34.50" stroke="#333" stroke-width="1"/><text transform="translate(30.00 548.00) scale(1 1.1)" text-anchor="end" class="t">100</text><path d="M31.50 516.14H34.50" stroke="#333" stroke-width="1"/><text transform="translate(30.00 519.44) scale(1 1.1)" text-anchor="end" class="t">120</text><path d="M31.50 487.58H34.50" stroke="#333" stroke-width="1"/><text transform="translate(30.00 490.88) scale(1 1.1)" text-anchor="end" class="t">140</text><path d="M34.50 687.50V690.50" stroke="#333" stroke-width="1"/><path d="M68.75 687.50V690.50" stroke="#333" stroke-width="1"/><path d="M102.50 687.50V690.50" stroke="#333" stroke-width="1"/><path d="M136.25 687.50V690.50" stroke="#333" stroke-width="1"/><path d="M170.00 687.50V690.50" stroke="#333" stroke-width="1"/><path d="M203.75 687.50V690.50" stroke="#333" stroke-width="1"/><path d="M237.50 687.50V690.50" stroke="#333" stroke-width="1"/><path d="M271.25 687.50V690.50" stroke="#333" stroke-width="1"/><path d="M305.00 687.50V690.50" stroke="#333" stroke-width="1"/><text transform="translate(51.88 701.90) scale(1 1.1)" text-anchor="middle" class="t">1</text><text transform="translate(85.62 701.90) scale(1 1.1)" text-anchor="middle" class="t">2</text><text transform="translate(119.38 701.90) scale(1 1.1)" text-anchor="middle" class="t">3</text><text transform="translate(153.12 701.90) scale(1 1.1)" text-anchor="middle" class="t">4</text><text transform="translate(186.88 701.90) scale(1 1.1)" text-anchor="middle" class="t">5</text><text transform="translate(220.62 701.90) scale(1 1.1)" text-anchor="middle" class="t">6</text><text transform="translate(254.38 701.90) scale(1 1.1)" text-anchor="middle" class="t">7</text><text transform="translate(288.12 701.90) scale(1 1.1)" text-anchor="middle" class="t">8</text><text x="44" y="18.8" class="p">A</text><text x="43.6" y="252.4" class="p">B</text><text x="44.2" y="509.8" class="p">C</text><text x="164.9" y="218.3" text-anchor="middle" class="x">Days post inoculation</text><text x="171.6" y="463.6" text-anchor="middle" class="x2">Days post inoculation</text><text x="170.3" y="716.4" text-anchor="middle" class="x2">Days post inoculation</text><text transform="translate(10.7 97.2) rotate(-90)" text-anchor="middle" class="y">OD</text><text transform="translate(9.9 341) rotate(-90)" text-anchor="middle" class="yd">ΔOD</text><text transform="translate(9.8 580.3) rotate(-90)" text-anchor="middle" class="z">ZIKV induced cell death (%)</text><text transform="translate(379.3 99.1) rotate(90)" text-anchor="middle" class="x">virus dilution (fold)</text><text transform="translate(377.9 326.4) rotate(90)" text-anchor="middle" class="x">virus dilution (fold)</text><text transform="translate(379.2 586.0) rotate(90)" text-anchor="middle" class="x">virus dilution (fold)</text><rect x="316.00" y="19.50" width="5" height="5" fill="#9e4a1c"/><text x="323.60" y="25.60" class="x">10</text><rect x="316.00" y="38.32" width="5" height="5" fill="#b8561f"/><text x="323.60" y="44.42" class="x">100</text><rect x="316.00" y="57.14" width="5" height="5" fill="#c96227"/><text x="323.60" y="63.24" class="x">1000</text><rect x="316.00" y="75.96" width="5" height="5" fill="#d46a2c"/><text x="323.60" y="82.06" class="x">10000</text><rect x="316.00" y="94.78" width="5" height="5" fill="#e3762f"/><text x="323.60" y="100.88" class="x">100000</text><rect x="316.00" y="113.60" width="5" height="5" fill="#e77f45"/><text x="323.60" y="119.70" class="x">1000000</text><rect x="316.00" y="132.42" width="5" height="5" fill="#e99170"/><text x="323.60" y="138.52" class="x">10000000</text><rect x="316.00" y="151.24" width="5" height="5" fill="#eca38a"/><text x="323.60" y="157.34" class="x">100000000</text><rect x="316.00" y="170.06" width="5" height="5" fill="#f0b7a6"/><text x="323.60" y="176.16" class="x">1000000000</text><rect x="316.00" y="188.88" width="5" height="5" fill="#f5c9bd"/><text x="323.60" y="194.98" class="x">uninfected</text><rect x="313.20" y="262.60" width="5" height="5" fill="#0d0d0d"/><text x="321.20" y="268.70" class="x">10</text><rect x="313.20" y="280.70" width="5" height="5" fill="#404040"/><text x="321.20" y="286.80" class="x">100</text><rect x="313.20" y="298.80" width="5" height="5" fill="#5a5a5a"/><text x="321.20" y="304.90" class="x">1000</text><rect x="313.20" y="316.90" width="5" height="5" fill="#707070"/><text x="321.20" y="323.00" class="x">10000</text><rect x="313.20" y="335.00" width="5" height="5" fill="#8c8c8c"/><text x="321.20" y="341.10" class="x">100000</text><rect x="313.20" y="353.10" width="5" height="5" fill="#9a9a9a"/><text x="321.20" y="359.20" class="x">1000000</text><rect x="313.20" y="371.20" width="5" height="5" fill="#bfbfbf"/><text x="321.20" y="377.30" class="x">10000000</text><rect x="313.20" y="389.30" width="5" height="5" fill="#d9d9d9"/><text x="321.20" y="395.40" class="x">100000000</text><rect x="313.20" y="407.40" width="5" height="5" fill="#efefef"/><text x="321.20" y="413.50" class="x">1000000000</text><rect x="312.50" y="531.10" width="5" height="5" fill="#1f4a87"/><text x="320.40" y="537.20" class="x">10</text><rect x="312.50" y="547.28" width="5" height="5" fill="#225397"/><text x="320.40" y="553.38" class="x">100</text><rect x="312.50" y="563.46" width="5" height="5" fill="#2a5ea8"/><text x="320.40" y="569.56" class="x">1000</text><rect x="312.50" y="579.64" width="5" height="5" fill="#2d63ae"/><text x="320.40" y="585.74" class="x">10000</text><rect x="312.50" y="595.82" width="5" height="5" fill="#3060a8"/><text x="320.40" y="601.92" class="x">100000</text><rect x="312.50" y="612.00" width="5" height="5" fill="#6a8ec6"/><text x="320.40" y="618.10" class="x">1000000</text><rect x="312.50" y="628.18" width="5" height="5" fill="#8aa7d3"/><text x="320.40" y="634.28" class="x">10000000</text><rect x="312.50" y="644.36" width="5" height="5" fill="#a5bade"/><text x="320.40" y="650.46" class="x">100000000</text><rect x="312.50" y="660.54" width="5" height="5" fill="#c2d0e9"/><text x="320.40" y="666.64" class="x">1000000000</text></svg></body></html>
